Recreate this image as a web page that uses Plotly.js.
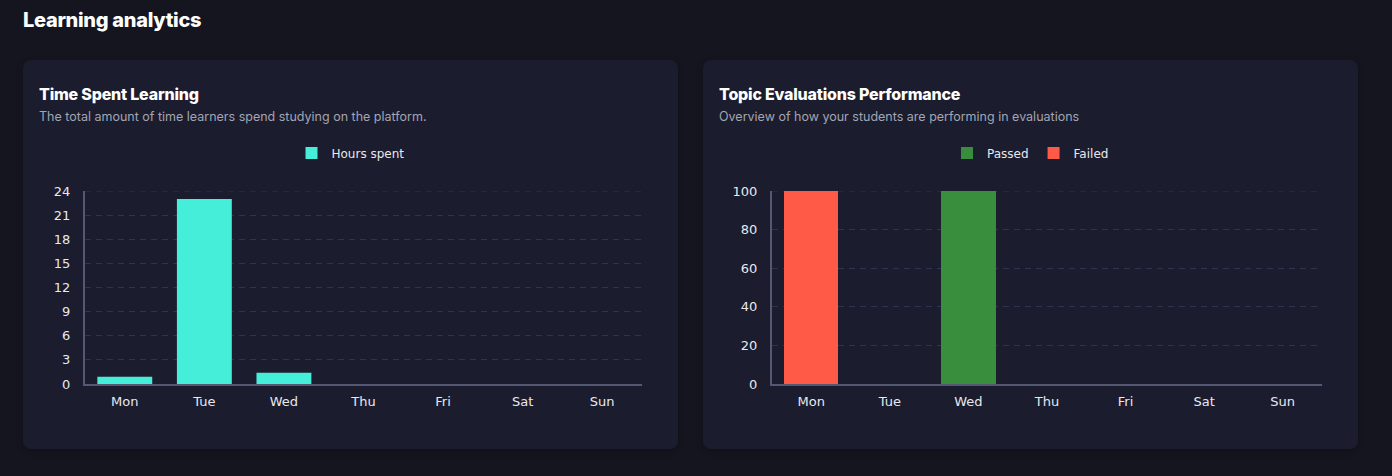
<!DOCTYPE html>
<html>
<head>
<meta charset="utf-8">
<script src="https://cdn.plot.ly/plotly-3.0.1.min.js"></script>
<style>
  html, body { margin: 0; padding: 0; background: #15151f; width: 1392px; height: 476px; overflow: hidden; font-family: Inter, "Open Sans", sans-serif; }
  h1 { position: absolute; left: 23px; top: 8px; margin: 0; color: #ffffff; font-size: 20px; font-weight: 800; letter-spacing: -0.3px; }
  .card { position: absolute; top: 60px; width: 655px; height: 389px; background: #1b1c2d; border-radius: 8px; box-shadow: 0 2px 6px rgba(0,0,0,0.25); }
  .card h2 { position: absolute; left: 16px; top: 24px; margin: 0; color: #ffffff; font-size: 16px; font-weight: 800; letter-spacing: -0.2px; }
  .card p { position: absolute; left: 16px; top: 49px; margin: 0; color: #a3a5b3; font-size: 12.5px; }
  .chart { position: absolute; left: 0; top: 0; width: 655px; height: 389px; }
</style>
</head>
<body>
<h1>Learning analytics</h1>
<div class="card" style="left:23px">
  <h2>Time Spent Learning</h2>
  <p>The total amount of time learners spend studying on the platform.</p>
  <div id="c1" class="chart"></div>
</div>
<div class="card" style="left:703px">
  <h2>Topic Evaluations Performance</h2>
  <p>Overview of how your students are performing in evaluations</p>
  <div id="c2" class="chart"></div>
</div>
<script>
const days = ["Mon", "Tue", "Wed", "Thu", "Fri", "Sat", "Sun"];
const hoursSpent = [0.9, 23, 1.4, 0, 0, 0, 0];
const passed = [0, 0, 100, 0, 0, 0, 0];
const failed = [100, 0, 0, 0, 0, 0, 0];
const hourTicks = [0, 3, 6, 9, 12, 15, 18, 21, 24];
const pctTicks = [0, 20, 40, 60, 80, 100];

const tickFont = { family: "DejaVu Sans, Verdana, sans-serif", size: 13, color: "#e8e8ef" };
const gridColor = "#2e3350";

function baseLayout(leftMargin, yTicks) {
  const yMax = yTicks[yTicks.length - 1];
  return {
    width: 655, height: 389,
    margin: { l: leftMargin, r: 36, t: 131, b: 65 },
    paper_bgcolor: "rgba(0,0,0,0)",
    plot_bgcolor: "rgba(0,0,0,0)",
    bargap: 0.31,
    barmode: "stack",
    showlegend: true,
    legend: {
      orientation: "h", xref: "container", yref: "container",
      x: 0.5, xanchor: "center", y: 1 - 93 / 389, yanchor: "middle",
      traceorder: "normal",
      font: { family: "DejaVu Sans, Verdana, sans-serif", size: 12, color: "#e8e8ef" },
      itemclick: false, itemdoubleclick: false
    },
    xaxis: {
      type: "category", categoryorder: "array", categoryarray: days,
      showgrid: false, zeroline: false,
      showline: true, linecolor: "#545872", linewidth: 2,
      ticks: "", tickfont: tickFont, ticklabelstandoff: 4,
      fixedrange: true
    },
    yaxis: {
      range: [0, yMax], tickvals: yTicks, ticktext: yTicks.map(String),
      showgrid: true, gridcolor: gridColor, griddash: "6px,5px", gridwidth: 1,
      zeroline: false,
      showline: true, linecolor: "#545872", linewidth: 2,
      ticks: "", tickfont: tickFont, ticklabelstandoff: 10,
      fixedrange: true
    },
    shapes: [{
      type: "line", xref: "paper", yref: "y", x0: 0, x1: 1, y0: yMax, y1: yMax,
      layer: "below", line: { color: gridColor, width: 1, dash: "6px,5px" }
    }]
  };
}

Plotly.newPlot("c1", [
  { type: "bar", name: "Hours spent", x: days, y: hoursSpent, marker: { color: "#45eed8" }, hoverinfo: "x+y" }
], baseLayout(62, hourTicks), { displayModeBar: false, staticPlot: true });

Plotly.newPlot("c2", [
  { type: "bar", name: "Passed", x: days, y: passed, marker: { color: "#388e3c" }, hoverinfo: "x+y" },
  { type: "bar", name: "Failed", x: days, y: failed, marker: { color: "#ff5a48" }, hoverinfo: "x+y" }
], baseLayout(69, pctTicks), { displayModeBar: false, staticPlot: true });
</script>
</body>
</html>
